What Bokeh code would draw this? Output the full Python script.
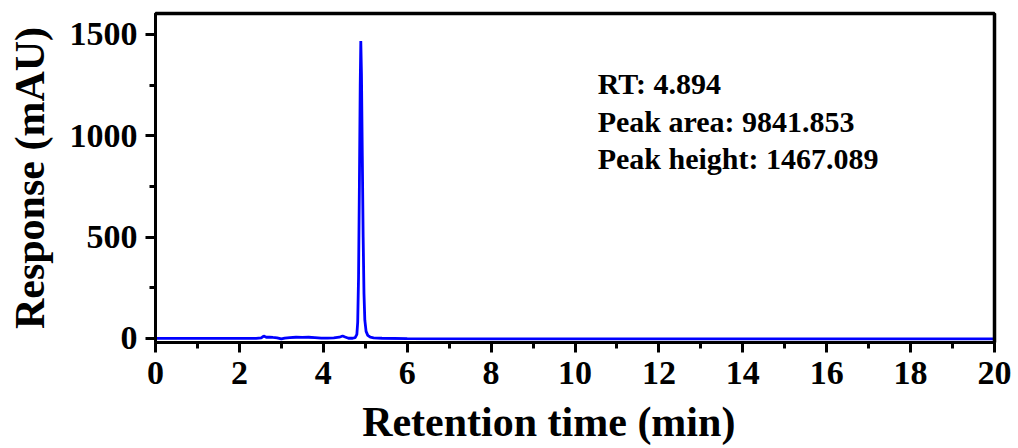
from bokeh.plotting import figure
from bokeh.models import FixedTicker, Range1d, LinearAxis
from bokeh.core.properties import value
from bokeh.embed import file_html
from bokeh.resources import INLINE

# Chromatogram data (retention time in min, response in mAU)
times = [0, 0.5, 1.0, 1.5, 2.0, 2.4, 2.52, 2.58, 2.64, 2.72, 2.8, 2.9, 3.0, 3.08,
         3.2, 3.35, 3.5, 3.65, 3.8, 3.95, 4.1, 4.25, 4.38, 4.46, 4.52, 4.6, 4.7,
         4.76, 4.8, 4.82, 4.84, 4.86, 4.88, 4.894, 4.91, 4.93, 4.95, 4.97, 4.99,
         5.02, 5.06, 5.12, 5.2, 5.4, 6, 8, 10, 12, 14, 16, 18, 20]
response = [0, 0, 0, 0, 0, 0, 3, 12, 6, 7, 5, 3, -2, 2,
            4, 6, 5, 6, 4, 2, 2, 3, 6, 12, 7, 1, 1,
            4, 20, 80, 300, 750, 1250, 1467, 1300, 900, 500, 220, 90,
            35, 15, 6, 3, 1, -1, -2, -2, -2, -2, -2, -2, -2]

x_ticks = [0, 2, 4, 6, 8, 10, 12, 14, 16, 18, 20]
y_ticks = [0, 500, 1000, 1500]
annotations = ["RT: 4.894", "Peak area: 9841.853", "Peak height: 1467.089"]
x_title = "Retention time (min)"
y_title = "Response (mAU)"

FONT = "Liberation Serif"

p = figure(width=1018, height=448, output_backend="svg", toolbar_location=None,
           x_range=Range1d(0, 20), y_range=Range1d(-20, 1603))
p.min_border_left = 155
p.min_border_right = 24
p.min_border_top = 13
p.min_border_bottom = 106
p.background_fill_color = "white"
p.border_fill_color = None
p.outline_line_color = "black"
p.outline_line_width = 3
p.xgrid.visible = False
p.ygrid.visible = False

p.line(times, response, line_color="#0000FF", line_width=2.8)

ann_x = [10.54, 10.54, 10.54]
ann_y = [1258, 1070, 888]
p.text(x=ann_x, y=ann_y, text=annotations, text_font=value(FONT),
       text_font_style="bold", text_font_size="30px", text_baseline="alphabetic",
       text_align="left", text_color="black")

minor_x = [1, 3, 5, 7, 9, 11, 13, 15, 17, 19]
minor_y = [250, 750, 1250]

xax = p.below[0]
yax = p.left[0]
xax.ticker = FixedTicker(ticks=x_ticks, minor_ticks=minor_x)
yax.ticker = FixedTicker(ticks=y_ticks, minor_ticks=minor_y)

for ax in (xax, yax):
    ax.axis_line_width = 3
    ax.axis_line_color = "black"
    ax.major_tick_line_width = 3
    ax.minor_tick_line_width = 3
    ax.major_tick_out = 10
    ax.major_tick_in = 0
    ax.minor_tick_out = 6
    ax.minor_tick_in = 0
    ax.major_label_text_font = FONT
    ax.major_label_text_font_style = "bold"
    ax.major_label_text_font_size = "34px"
    ax.major_label_text_color = "black"
    ax.axis_label_text_font = FONT
    ax.axis_label_text_font_style = "bold"
    ax.axis_label_text_font_size = "42px"
    ax.axis_label_text_color = "black"

# trailing no-break spaces shift the centred title slightly left, as in the reference
xax.axis_label = x_title + "\u00a0" * 5
yax.axis_label = y_title
xax.major_label_standoff = 9
yax.major_label_standoff = 8
xax.axis_label_standoff = 12
yax.axis_label_standoff = 14

# plain frame lines on top and right (no ticks, no labels)
for side in ("above", "right"):
    fa = LinearAxis(ticker=FixedTicker(ticks=[]), axis_line_width=3.5,
                    axis_line_color="black", major_tick_out=0, major_tick_in=0,
                    minor_tick_out=0, minor_tick_in=0,
                    major_label_text_font_size="0px", major_label_standoff=0)
    p.add_layout(fa, side)

open("out.html", "w").write(file_html(p, INLINE))
